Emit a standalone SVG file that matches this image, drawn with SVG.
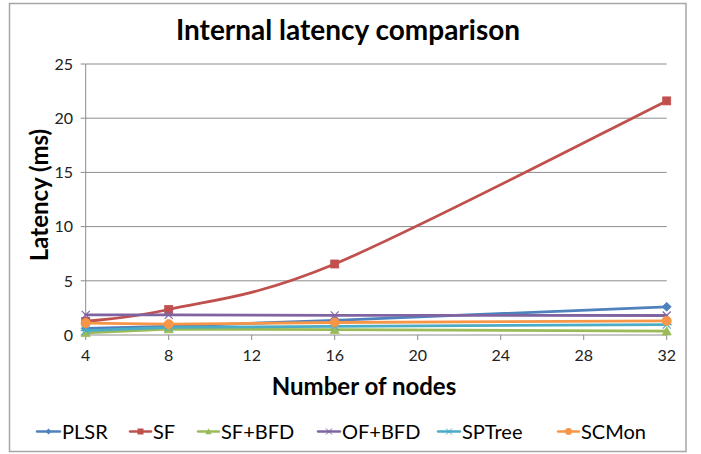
<svg xmlns="http://www.w3.org/2000/svg" width="701" height="454" viewBox="0 0 701 454">
<style>
text{font-family:Lato,"Open Sans","Liberation Sans",sans-serif;fill:#000}
.title{font-size:28px;font-weight:bold}
.axt{font-size:24px;font-weight:bold}
.tick{font-size:16px;fill:#222}
.leg{font-size:20px}
.grid{stroke:#8c8c8c;stroke-width:1;fill:none}
.s{fill:none;stroke-width:2.8;stroke-linejoin:round;stroke-linecap:round}
.l{stroke-width:2.4}
</style>
<defs>
<path id="mDia" d="M0,-4.5 L4.5,0 L0,4.5 L-4.5,0Z" fill="#4F81BD" stroke="#4F81BD" stroke-width="0.8"/>
<rect id="mSq" x="-4" y="-4" width="8" height="8" fill="#C0504D" stroke="#C0504D" stroke-width="0.8"/>
<path id="mTri" d="M0,-4.5 L4.5,3.8 L-4.5,3.8Z" fill="#9BBB59" stroke="#9BBB59" stroke-width="0.8"/>
<path id="mX" d="M-4,-4 L4,4 M-4,4 L4,-4" stroke="#8064A2" stroke-width="1.2" fill="none"/>
<path id="mAst" d="M-4,-4 L4,4 M-4,4 L4,-4 M-5,0 L5,0" stroke="#4BACC6" stroke-width="1.2" fill="none"/>
<circle id="mCir" r="4.6" fill="#F79646" stroke="#F79646" stroke-width="0.8"/>
<path id="lDia" d="M0,-3 L3,0 L0,3 L-3,0Z" fill="#4F81BD"/>
<rect id="lSq" x="-3" y="-3" width="6" height="6" fill="#C0504D"/>
<path id="lTri" d="M0,-3.2 L3.2,2.8 L-3.2,2.8Z" fill="#9BBB59"/>
<path id="lX" d="M-3,-3 L3,3 M-3,3 L3,-3" stroke="#8064A2" stroke-width="1" fill="none"/>
<path id="lAst" d="M-3,-3 L3,3 M-3,3 L3,-3 M-4,0 L4,0" stroke="#4BACC6" stroke-width="1" fill="none"/>
<circle id="lCir" r="3.4" fill="#F79646"/>
</defs>
<rect id="frame" x="9.5" y="3.5" width="676.5" height="448" fill="#fff" stroke="#a6a6a6" stroke-width="1.5"/>
<text class="title" x="348" y="40" text-anchor="middle">Internal latency comparison</text>
<g id="axes">
<path class="grid" d="M85.7,64H666.7M85.7,118.2H666.7M85.7,172.4H666.7M85.7,226.6H666.7M85.7,280.8H666.7"/>
<path class="grid" d="M85.7,64V335H666.7"/>
<path class="grid" d="M80.7,64H85.7M80.7,118.2H85.7M80.7,172.4H85.7M80.7,226.6H85.7M80.7,280.8H85.7M80.7,335H85.7"/>
<path class="grid" d="M85.7,335v5M168.7,335v5M251.7,335v5M334.7,335v5M417.7,335v5M500.7,335v5M583.7,335v5M666.7,335v5"/>
<g class="tick" text-anchor="end">
<text class="tick" x="73" y="69.8">25</text>
<text class="tick" x="73" y="124">20</text>
<text class="tick" x="73" y="178.2">15</text>
<text class="tick" x="73" y="232.4">10</text>
<text class="tick" x="73" y="286.6">5</text>
<text class="tick" x="73" y="340.8">0</text>
</g>
<g text-anchor="middle">
<text class="tick" x="85.7" y="360.5">4</text>
<text class="tick" x="168.7" y="360.5">8</text>
<text class="tick" x="251.7" y="360.5">12</text>
<text class="tick" x="334.7" y="360.5">16</text>
<text class="tick" x="417.7" y="360.5">20</text>
<text class="tick" x="500.7" y="360.5">24</text>
<text class="tick" x="583.7" y="360.5">28</text>
<text class="tick" x="666.7" y="360.5">32</text>
</g>
<text class="axt" x="364" y="395" text-anchor="middle">Number of nodes</text>
<text class="axt" transform="translate(48,195) rotate(-90)" text-anchor="middle">Latency (ms)</text>
</g>
<g id="connectors">
<g id="PLSR">
<path class="s" stroke="#4F81BD" d="M85.7,328.5L168.7,326.3L334.7,320.4L666.7,306.8"/>
<use href="#mDia" x="85.7" y="328.5"/><use href="#mDia" x="168.7" y="326.3"/><use href="#mDia" x="334.7" y="320.4"/><use href="#mDia" x="666.7" y="306.8"/>
</g>
<g id="SF">
<path class="s" stroke="#C0504D" d="M85.7,321.5C99.5,319.5 127.2,318.8 168.7,309.5C210.2,299.7 251.7,298.6 334.7,264C417.7,229.1 611.4,128.2 666.7,100.9"/>
<use href="#mSq" x="85.7" y="321.5"/><use href="#mSq" x="168.7" y="309.5"/><use href="#mSq" x="334.7" y="264"/><use href="#mSq" x="666.7" y="100.9"/>
</g>
<g id="SFBFD">
<path class="s" stroke="#9BBB59" d="M85.7,332.8L168.7,329L334.7,329.6L666.7,331.2"/>
<use href="#mTri" x="85.7" y="332.8"/><use href="#mTri" x="168.7" y="329"/><use href="#mTri" x="334.7" y="329.6"/><use href="#mTri" x="666.7" y="331.2"/>
</g>
<g id="OFBFD">
<path class="s" stroke="#8064A2" d="M85.7,314.9L168.7,314.9L334.7,315.3L666.7,315.5"/>
<use href="#mX" x="85.7" y="314.9"/><use href="#mX" x="168.7" y="314.9"/><use href="#mX" x="334.7" y="315.3"/><use href="#mX" x="666.7" y="315.5"/>
</g>
<g id="SPTree">
<path class="s" stroke="#4BACC6" d="M85.7,330.7L168.7,327.4L334.7,326.3L666.7,324.7"/>
<use href="#mAst" x="85.7" y="330.7"/><use href="#mAst" x="168.7" y="327.4"/><use href="#mAst" x="334.7" y="326.3"/><use href="#mAst" x="666.7" y="324.7"/>
</g>
<g id="SCMon">
<path class="s" stroke="#F79646" d="M85.7,323.1L168.7,324.2L334.7,322.5L666.7,320.9"/>
<use href="#mCir" x="85.7" y="323.1"/><use href="#mCir" x="168.7" y="324.2"/><use href="#mCir" x="334.7" y="322.5"/><use href="#mCir" x="666.7" y="320.9"/>
</g>
</g>
<g id="legend">
<g id="leg-PLSR"><path class="s l" stroke="#4F81BD" d="M37,431.5H60"/><use href="#lDia" x="48.5" y="431.5"/><text class="leg" x="62" y="438.5">PLSR</text></g>
<g id="leg-SF"><path class="s l" stroke="#C0504D" d="M130,431.5H151"/><use href="#lSq" x="140.5" y="431.5"/><text class="leg" x="153" y="438.5">SF</text></g>
<g id="leg-SFBFD"><path class="s l" stroke="#9BBB59" d="M198,431.5H219"/><use href="#lTri" x="208.5" y="431.5"/><text class="leg" x="221" y="438.5">SF+BFD</text></g>
<g id="leg-OFBFD"><path class="s l" stroke="#8064A2" d="M318,431.5H340"/><use href="#lX" x="329" y="431.5"/><text class="leg" x="342" y="438.5">OF+BFD</text></g>
<g id="leg-SPTree"><path class="s l" stroke="#4BACC6" d="M438,431.5H460"/><use href="#lAst" x="449" y="431.5"/><text class="leg" x="462" y="438.5">SPTree</text></g>
<g id="leg-SCMon"><path class="s l" stroke="#F79646" d="M558,431.5H579"/><use href="#lCir" x="568.5" y="431.5"/><text class="leg" x="581" y="438.5">SCMon</text></g>
</g>
</svg>
